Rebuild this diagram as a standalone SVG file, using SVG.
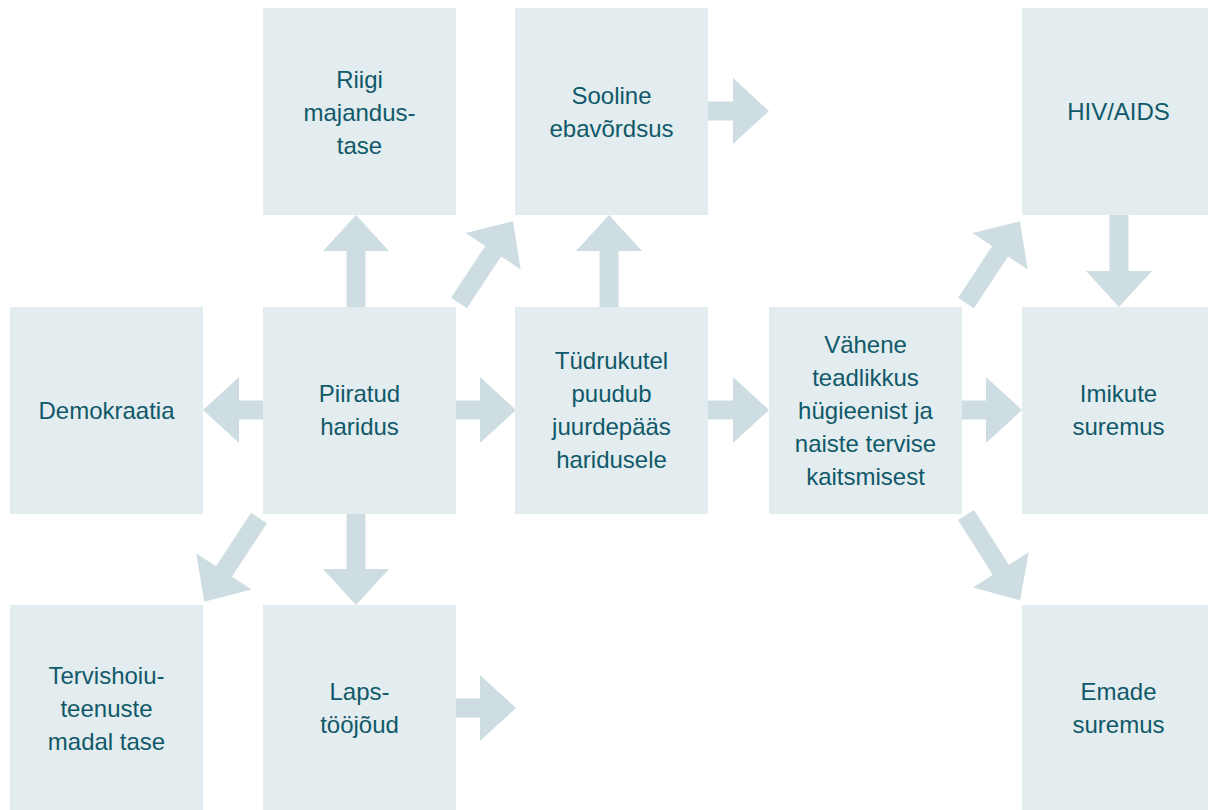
<svg xmlns="http://www.w3.org/2000/svg" width="1208" height="810" viewBox="0 0 1208 810">
<style>
.box{fill:#e3ecee}
.arr{fill:#cddde2}
text{font-family:"Liberation Sans",Arial,Helvetica,sans-serif;font-size:24px;fill:#10596a;text-anchor:middle}
</style>
<rect width="1208" height="810" fill="#ffffff"/>
<g id="connectors">
<!-- straight arrows: polygon along +x, length L -->
<polygon class="arr" transform="translate(356,307) rotate(-90)" points="0,-9.5 56,-9.5 56,-33 92,0 56,33 56,9.5 0,9.5"/>
<polygon class="arr" transform="translate(609,307) rotate(-90)" points="0,-9.5 56,-9.5 56,-33 92,0 56,33 56,9.5 0,9.5"/>
<polygon class="arr" transform="translate(1119,215) rotate(90)" points="0,-9.5 56,-9.5 56,-33 92,0 56,33 56,9.5 0,9.5"/>
<polygon class="arr" transform="translate(356,514) rotate(90)" points="0,-9.5 55,-9.5 55,-33 91,0 55,33 55,9.5 0,9.5"/>
<polygon class="arr" transform="translate(263,410) rotate(180)" points="0,-9.5 24,-9.5 24,-33 60,0 24,33 24,9.5 0,9.5"/>
<polygon class="arr" transform="translate(456,410)" points="0,-9.5 24,-9.5 24,-33 60,0 24,33 24,9.5 0,9.5"/>
<polygon class="arr" transform="translate(708,410)" points="0,-9.5 25,-9.5 25,-33 61,0 25,33 25,9.5 0,9.5"/>
<polygon class="arr" transform="translate(962,410)" points="0,-9.5 24,-9.5 24,-33 60,0 24,33 24,9.5 0,9.5"/>
<polygon class="arr" transform="translate(708,111)" points="0,-9.5 25,-9.5 25,-33 61,0 25,33 25,9.5 0,9.5"/>
<polygon class="arr" transform="translate(456,708)" points="0,-9.5 24,-9.5 24,-33 60,0 24,33 24,9.5 0,9.5"/>
<!-- diagonal arrows -->
<polygon class="arr" transform="translate(459,303) rotate(-56.6)" points="0,-9.5 62,-9.5 62,-33 98,0 62,33 62,9.5 0,9.5"/>
<polygon class="arr" transform="translate(259,518) rotate(123.2)" points="0,-9.5 64,-9.5 64,-33 100,0 64,33 64,9.5 0,9.5"/>
<polygon class="arr" transform="translate(966,303) rotate(-56.6)" points="0,-9.5 62,-9.5 62,-33 98,0 62,33 62,9.5 0,9.5"/>
<polygon class="arr" transform="translate(966,515) rotate(57.6)" points="0,-9.5 65,-9.5 65,-33 101,0 65,33 65,9.5 0,9.5"/>
</g>
<g id="riigi">
<rect class="box" x="263" y="8" width="193" height="207"/>
<text x="359.5" y="88">Riigi</text>
<text x="359.5" y="121">majandus-</text>
<text x="359.5" y="154">tase</text>
</g>
<g id="sooline">
<rect class="box" x="515" y="8" width="193" height="207"/>
<text x="611.5" y="104">Sooline</text>
<text x="611.5" y="137">ebavõrdsus</text>
</g>
<g id="hiv">
<rect class="box" x="1022" y="8" width="193" height="207"/>
<text x="1118.5" y="120">HIV/AIDS</text>
</g>
<g id="demokraatia">
<rect class="box" x="10" y="307" width="193" height="207"/>
<text x="106.5" y="419">Demokraatia</text>
</g>
<g id="piiratud">
<rect class="box" x="263" y="307" width="193" height="207"/>
<text x="359.5" y="402">Piiratud</text>
<text x="359.5" y="435">haridus</text>
</g>
<g id="tydrukutel">
<rect class="box" x="515" y="307" width="193" height="207"/>
<text x="611.5" y="369">Tüdrukutel</text>
<text x="611.5" y="402">puudub</text>
<text x="611.5" y="435">juurdepääs</text>
<text x="611.5" y="468">haridusele</text>
</g>
<g id="vahene">
<rect class="box" x="769" y="307" width="193" height="207"/>
<text x="865.5" y="353">Vähene</text>
<text x="865.5" y="386">teadlikkus</text>
<text x="865.5" y="419">hügieenist ja</text>
<text x="865.5" y="452">naiste tervise</text>
<text x="865.5" y="485">kaitsmisest</text>
</g>
<g id="imikute">
<rect class="box" x="1022" y="307" width="193" height="207"/>
<text x="1118.5" y="402">Imikute</text>
<text x="1118.5" y="435">suremus</text>
</g>
<g id="tervishoiu">
<rect class="box" x="10" y="605" width="193" height="207"/>
<text x="106.5" y="684">Tervishoiu-</text>
<text x="106.5" y="717">teenuste</text>
<text x="106.5" y="750">madal tase</text>
</g>
<g id="laps">
<rect class="box" x="263" y="605" width="193" height="207"/>
<text x="359.5" y="700">Laps-</text>
<text x="359.5" y="733">tööjõud</text>
</g>
<g id="emade">
<rect class="box" x="1022" y="605" width="193" height="207"/>
<text x="1118.5" y="700">Emade</text>
<text x="1118.5" y="733">suremus</text>
</g>
</svg>
